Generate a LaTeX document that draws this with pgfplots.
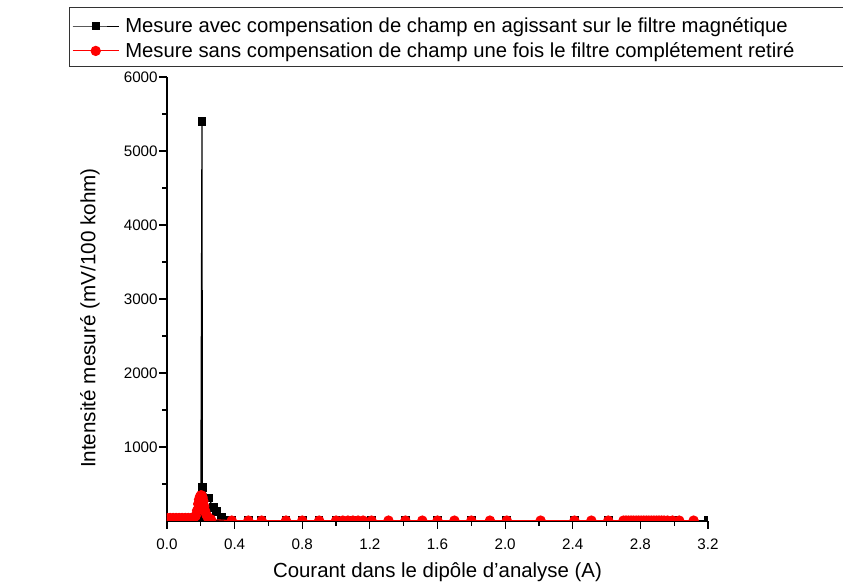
\documentclass[border=0pt]{standalone}
\usepackage{fontspec}
\setmainfont{Liberation Sans}
\usepackage{pgfplots}
\pgfplotsset{compat=1.18}
\pgfplotstableread{
x y
0.000 40
0.020 40
0.040 40
0.060 40
0.080 40
0.100 40
0.120 40
0.140 40
0.160 40
0.180 45
0.200 60
0.207 5400
0.209 455
0.244 312
0.274 186
0.294 132
0.324 51
0.350 15
0.383 5
0.481 5
0.560 5
0.704 5
0.800 5
0.900 5
1.000 5
1.100 5
1.210 5
1.410 5
1.600 5
1.800 5
2.010 5
2.410 5
2.610 5
2.800 5
3.000 5
3.200 5
}\blackdata
\pgfplotstableread{
x y
0.000 40
0.018 40
0.036 40
0.054 40
0.072 40
0.090 40
0.108 40
0.126 40
0.144 40
0.160 45
0.170 70
0.178 140
0.185 230
0.190 290
0.195 325
0.200 345
0.205 345
0.210 320
0.215 270
0.220 200
0.225 140
0.232 90
0.240 55
0.250 30
0.260 20
0.383 5
0.481 5
0.560 5
0.704 5
0.800 5
0.900 5
1.000 5
1.040 5
1.070 5
1.100 5
1.130 5
1.160 5
1.210 5
1.310 5
1.410 5
1.510 5
1.600 5
1.700 5
1.800 5
1.910 5
2.010 5
2.210 5
2.410 5
2.510 5
2.610 5
2.700 5
2.715 5
2.730 5
2.745 5
2.760 5
2.775 5
2.790 5
2.805 5
2.820 5
2.835 5
2.850 5
2.865 5
2.880 5
2.895 5
2.910 5
2.925 5
2.940 5
2.960 5
2.990 5
3.030 5
3.115 5
}\reddata
\begin{document}
\begin{tikzpicture}
\begin{axis}[
  scale only axis, width=405.75pt, height=333pt,
  xmin=0, xmax=3.2, ymin=0, ymax=6000,
  axis lines=left, axis line style={-, line width=1pt},
  tick align=outside, major tick length=6pt, minor tick length=3.5pt,
  every tick/.style={line width=0.9pt, black},
  xtick={0,0.4,0.8,1.2,1.6,2.0,2.4,2.8,3.2},
  minor xtick={0.2,0.6,1.0,1.4,1.8,2.2,2.6,3.0},
  ytick={1000,2000,3000,4000,5000,6000},
  minor ytick={500,1500,2500,3500,4500,5500},
  /pgf/number format/assume math mode=true,
  xticklabel style={yshift=-4pt, /pgf/number format/.cd, fixed, fixed zerofill, precision=1},
  yticklabel style={xshift=2.5pt, /pgf/number format/.cd, fixed, 1000 sep={}},
  tick label style={font=\fontsize{11.4}{13}\selectfont},
  xlabel={Courant dans le dipôle d'analyse (A)},
  ylabel={Intensité mesuré (mV/100 kohm)},
  xlabel style={font=\fontsize{15.3}{18}\selectfont, at={(axis description cs:0.5,-0.115)}, anchor=center},
  ylabel style={font=\fontsize{15.5}{18}\selectfont, at={(axis description cs:-0.1423,0.457)}, anchor=center},
  clip marker paths=true,
  legend style={at={(axis description cs:-0.1756,1.0868)}, anchor=west,
    draw=none, fill=none, inner sep=0pt, row sep=6pt,
    font=\fontsize{15.2}{18}\selectfont,
    nodes={inner sep=0pt, anchor=west}},
  legend cell align=left,
  legend image code/.code={
    \draw[mark repeat=2, mark phase=2, line width=0.7pt] plot coordinates {(0pt,0pt) (17.25pt,0pt) (34.5pt,0pt)};
    \path (39pt,0pt);
  },
]
\addplot[black, line width=0.9pt, mark=square*, mark size=2.8pt, mark options={solid, fill=black}] table {\blackdata};
\addlegendentry{Mesure avec compensation de champ en agissant sur le filtre magnétique}
\addplot[red, line width=0.8pt, mark=*, mark size=3.5pt, mark options={solid, fill=red, draw=red}] table {\reddata};
\addlegendentry{Mesure sans compensation de champ une fois le filtre complétement retiré}
\end{axis}
\draw[black!80, line width=0.75pt] (-72.75pt,340.5pt) rectangle (512pt,384.75pt);
\pgfresetboundingbox
\useasboundingbox (-125.25pt,-48pt) rectangle (507pt,390.75pt);
\end{tikzpicture}
\end{document}
